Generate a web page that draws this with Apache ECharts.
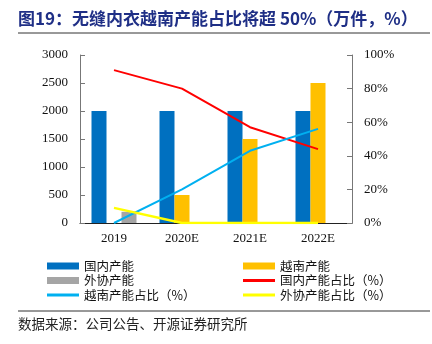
<!DOCTYPE html>
<html><head><meta charset="utf-8">
<script src="https://cdn.jsdelivr.net/npm/echarts@6/dist/echarts.min.js"></script>
<style>html,body{margin:0;padding:0;background:#fff}#c{width:432px;height:344px}</style>
</head><body><div id="c"></div>
<script>
const categories = ['2019', '2020E', '2021E', '2022E'];
const domestic = [2000, 2000, 2000, 2000];
const vietnam = [0, 500, 1500, 2500];
const outsourced = [200, 0, 0, 0];
const domesticShare = [91, 80, 57, 44];
const vietnamShare = [0, 20, 43, 56];
const outsourcedShare = [9, 0, 0, 0];
const leftTicks = [0, 500, 1000, 1500, 2000, 2500, 3000];
const rightTicks = [0, 20, 40, 60, 80, 100];

const serif = '"Liberation Serif", "Times New Roman", serif';
const cjk = '"Noto Sans CJK SC", sans-serif';
const lineIcon = 'path://M0,0H32V3H0Z';
const legendText = { fontFamily: cjk, fontSize: 12.5, lineHeight: 14, color: '#111' };
const chart = echarts.init(document.getElementById('c'));
chart.setOption({
  animation: false,
  title: {
    text: '图19：无缝内衣越南产能占比将超 50%（万件，%）',
    left: 18, top: 10, padding: 0,
    textStyle: { fontFamily: cjk, fontSize: 17, fontWeight: 'bold', color: '#1f2f86' }
  },
  graphic: [
    { type: 'line', shape: { x1: 18, y1: 33, x2: 430, y2: 33 }, style: { stroke: '#333', lineWidth: 1 } },
    { type: 'line', shape: { x1: 18, y1: 311, x2: 430, y2: 311 }, style: { stroke: '#333', lineWidth: 1 } },
    { type: 'text', left: 18, top: 317, style: { text: '数据来源：公司公告、开源证券研究所', font: '13.5px "Noto Sans CJK SC"', fill: '#222' } }
  ],
  legend: [
    { left: 47, top: 259, padding: 0, orient: 'vertical', itemWidth: 32, itemHeight: 7, itemGap: 0.5,
      textStyle: legendText,
      data: [{ name: '国内产能', icon: 'rect' }, { name: '外协产能', icon: 'rect' }, { name: '越南产能占比（%）', icon: lineIcon }] },
    { left: 243, top: 259, padding: 0, orient: 'vertical', itemWidth: 32, itemHeight: 7, itemGap: 0.5,
      textStyle: legendText,
      data: [{ name: '越南产能', icon: 'rect' }, { name: '国内产能占比（%）', icon: lineIcon }, { name: '外协产能占比（%）', icon: lineIcon }] }
  ],
  grid: { left: 80, right: 80, top: 55, bottom: 121 },
  xAxis: {
    type: 'category', data: categories,
    axisLine: { lineStyle: { color: '#222' } },
    axisTick: { inside: true, length: 5, lineStyle: { color: '#222' } },
    axisLabel: { fontFamily: serif, fontSize: 13, color: '#111', margin: 9 }
  },
  yAxis: [
    { type: 'value', min: leftTicks[0], max: leftTicks[leftTicks.length - 1], interval: 500,
      splitLine: { show: false },
      axisLine: { show: true, lineStyle: { color: '#777' } },
      axisTick: { show: true, inside: true, length: 5, lineStyle: { color: '#777' } },
      axisLabel: { fontFamily: serif, fontSize: 13, color: '#111', margin: 12, formatter: v => String(v) } },
    { type: 'value', min: rightTicks[0], max: rightTicks[rightTicks.length - 1], interval: 20,
      splitLine: { show: false },
      axisLine: { show: true, lineStyle: { color: '#777' } },
      axisTick: { show: true, inside: true, length: 5, lineStyle: { color: '#777' } },
      axisLabel: { fontFamily: serif, fontSize: 13, color: '#111', margin: 12, formatter: v => v + '%' } }
  ],
  series: [
    { name: '国内产能', type: 'bar', data: domestic, barWidth: 15, barGap: '0%', itemStyle: { color: '#0070c0' } },
    { name: '越南产能', type: 'bar', data: vietnam, barWidth: 15, barGap: '0%', itemStyle: { color: '#ffc000' } },
    { name: '外协产能', type: 'bar', data: outsourced, barWidth: 15, barGap: '0%', itemStyle: { color: '#a5a5a5' } },
    { name: '国内产能占比（%）', type: 'line', yAxisIndex: 1, data: domesticShare, symbol: 'none', lineStyle: { color: '#ff0000', width: 2 }, itemStyle: { color: '#ff0000' } },
    { name: '越南产能占比（%）', type: 'line', yAxisIndex: 1, data: vietnamShare, symbol: 'none', lineStyle: { color: '#00b0f0', width: 2 }, itemStyle: { color: '#00b0f0' } },
    { name: '外协产能占比（%）', type: 'line', yAxisIndex: 1, data: outsourcedShare, symbol: 'none', lineStyle: { color: '#ffff00', width: 2.5 }, itemStyle: { color: '#ffff00' } }
  ]
});
</script></body></html>
